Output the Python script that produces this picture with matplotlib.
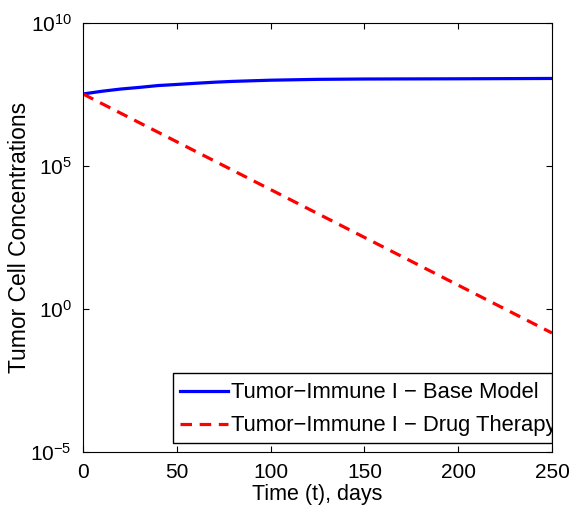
import matplotlib
matplotlib.use("Agg")
import matplotlib.pyplot as plt
from matplotlib.patches import Rectangle

plt.rcParams['font.family'] = ['Liberation Sans', 'DejaVu Sans']

# base model
t_base = [0, 10, 20, 30, 40, 50, 60, 70, 80, 100, 125, 150, 200, 250]
y_base = [3.3e7, 4.1e7, 4.9e7, 5.6e7, 6.5e7, 7.1e7, 7.8e7, 8.5e7, 9.1e7,
          1.0e8, 1.07e8, 1.1e8, 1.12e8, 1.15e8]

# drug therapy: straight line on the log axis
t_drug = [0, 250]
y_drug = [3.3e7, 0.145]

labels = ['Tumor\u2212Immune I \u2212 Base Model',
          'Tumor\u2212Immune I \u2212 Drug Therapy']

fig = plt.figure(figsize=(5.70, 5.18), dpi=100)
ax = fig.add_axes([0.1456, 0.1274, 0.8228, 0.8282])

ax.semilogy(t_base, y_base, color='#0000ff', lw=2.3, label=labels[0])
ax.semilogy(t_drug, y_drug, color='#ff0000', lw=2.3, ls=(0, (3.6, 2.4)), label=labels[1])

ax.set_xlim(0, 250)
ax.set_ylim(1e-5, 1e10)
ax.set_xticks([0, 50, 100, 150, 200, 250])
ax.set_yticks([1e-5, 1e0, 1e5, 1e10])
ax.minorticks_off()
ax.tick_params(direction='in', top=True, right=True, labelsize=15, length=4)
ax.tick_params(axis='x', pad=8)
ax.tick_params(axis='y', pad=8)

ax.set_xlabel('Time (t), days', fontsize=15.5)
ax.set_ylabel('Tumor Cell Concentrations', fontsize=16.5)
ax.xaxis.set_label_coords(0.5, -0.098)
ax.yaxis.set_label_coords(-0.136, 0.5)
ax.xaxis.label.set_va('center')
ax.yaxis.label.set_va('center')

# MATLAB-style legend: box ends at the right spine, text runs under it
box = Rectangle((0.192, 0.021), 0.808, 0.163, transform=ax.transAxes,
                facecolor='white', edgecolor='black', lw=1.0, zorder=4)
ax.add_patch(box)
leg = ax.legend(loc='lower left', bbox_to_anchor=(0.192, 0.021), fontsize=15.8,
                frameon=False, borderaxespad=0, handlelength=2.2, handletextpad=0.15,
                borderpad=0.3, labelspacing=0.55)
leg.set_zorder(5)
for txt in leg.get_texts():
    txt.set_clip_box(ax.bbox)
    txt.set_clip_on(True)

fig.savefig('out.png', dpi=100)
